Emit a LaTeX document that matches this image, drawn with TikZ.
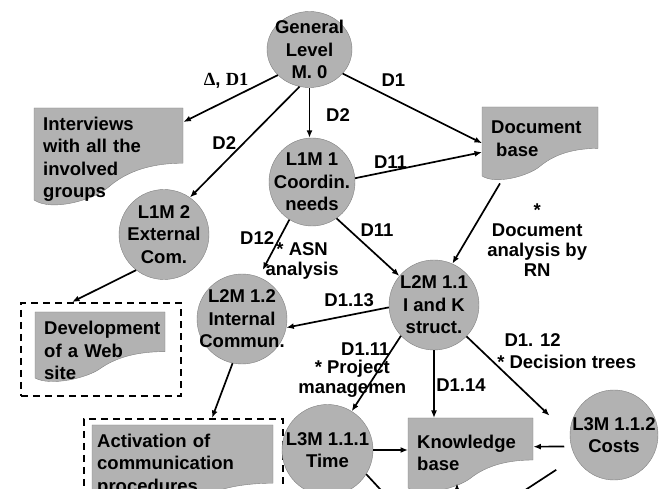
\documentclass[tikz,border=0pt]{standalone}
\usepackage{fontspec}
\setmainfont{Liberation Sans}
\newfontfamily\deltafont{Liberation Serif}
\usetikzlibrary{shapes.geometric,arrows.meta}

\begin{document}
\begin{tikzpicture}[x=1pt, y=-1pt,
  proc/.style={ellipse, draw=\edgecolor, fill=\nodecolor, minimum width=90pt, minimum height=90pt, inner sep=0pt},
  ptext/.style={align=center, inner sep=0pt, font=\procfont},
  docbox/.style={rectangle, anchor=north west, align=left, inner xsep=9pt, inner ysep=0pt, font=\procfont},
  dashbox/.style={rectangle, anchor=north west, draw, dash pattern=on 7pt off 5pt, line width=1.8pt},
  flow/.style={-{Latex[length=7.5pt,width=6pt]}, line width=1.7pt},
  lab/.style={align=center, inner sep=0pt, font=\edgefont}]
\def\nodecolor{gray!60}
\def\edgecolor{black!50}
\def\procfont{\bfseries\fontsize{18.5}{22.5}\selectfont}
\def\edgefont{\bfseries\fontsize{18.5}{20}\selectfont}
\def\docshape#1#2#3#4{% x, y, width, depth
\begin{scope}[shift={(#1,#2)}, xscale=#3, yscale=#4]
\draw[draw=\edgecolor, fill=\nodecolor] (0,0) -- (1,0) -- (1,0.6)
  .. controls (0.75,0.6) and (0.6,0.72) .. (0.5,0.86)
  .. controls (0.4,1.0) and (0.12,1.13) .. (0,1) -- cycle;
\end{scope}}

\useasboundingbox (0,0) rectangle (665,489);
\clip (0,0) rectangle (665,489);

% DASHED FRAMES
\node[dashbox, minimum width=160pt, minimum height=93pt] (webbox) at (20,302) {};
\node[dashbox, minimum width=199pt, minimum height=130pt] (actbox) at (83,418) {};

% DOCUMENTS
\docshape{34}{108}{149}{92}
\node[docbox, text width=131pt, minimum height=102pt] (intv) at (34,108) {Interviews\\with all the\\involved\\groups};

\docshape{482}{107}{116}{69}
\node[docbox, text width=98pt, minimum height=63pt] (db) at (482,107) {Document\\\hspace*{5pt}base};

\docshape{35}{312}{130}{66}
\node[docbox, text width=112pt, minimum height=77pt] (web) at (35,312) {Development\\of a Web\\site};

\docshape{92}{425}{181}{97}
\node[docbox, text width=163pt, minimum height=80pt, inner xsep=5pt] (act) at (92,425) {Activation of\\communication\\procedures};

\docshape{408}{418}{125}{70}
\node[docbox, text width=107pt, minimum height=69pt] (kb) at (408,418) {Knowledge\\base};

% PROCESSES
\node[proc, minimum width=85pt, minimum height=76pt, label={[ptext]center:General\\Level\\M. 0}] (gen) at (309.5,49.5) {};
\node[proc, minimum width=86pt, minimum height=88pt, label={[ptext]center:L1M 1\\Coordin.\\needs}] (l1a) at (312,182) {};
\node[proc, label={[ptext]center:L1M 2\\External\\Com.}] (l1b) at (164,234.5) {};
\node[proc, label={[ptext]center:L2M 1.1\\I and K\\struct.}] (l2a) at (434,305) {};
\node[proc, label={[ptext]center:L2M 1.2\\Internal\\Commun.}] (l2b) at (242,319) {};
\node[proc, minimum width=91pt, minimum height=91pt, label={[ptext]center:L3M 1.1.1\\Time}] (l3a) at (327.5,450) {};
\node[proc, minimum width=88pt, label={[ptext]center:L3M 1.1.2\\Costs}] (l3b) at (614,435) {};

% FLOWS
\draw[flow] (gen.219) -- ([yshift=-14pt]intv.north east)
  node[lab, midway, xshift=-4.5pt, yshift=17.5pt] (lgi) {{\deltafont Δ}, {\deltafont D1}};
\draw[flow] (gen.255) -- (l1b.55)
  node[lab, midway, xshift=-20.5pt, yshift=-1pt] (lgb) {D2};
\draw[flow] (gen.south) -- (gen.south |- l1a.north)
  node[lab, midway, xshift=28.5pt, yshift=-2.5pt] (lga) {D2};
\draw[flow] (gen.324) -- ([yshift=-4.5pt]db.west)
  node[lab, midway, xshift=-19pt, yshift=28pt] (lgd) {D1};
\draw[flow] (l1a.5) -- ([yshift=-13.5pt]db.west)
  node[lab, midway, xshift=-28pt, yshift=3pt] (lad) {D11};
\draw[flow] (l1a.304) -- (l2a.140)
  node[lab, midway, xshift=9pt, yshift=17pt] (laa) {D11};
\draw[flow, shorten >=8pt] (l1a.239) -- (l2b.68)
  node[lab, midway, xshift=-17pt, yshift=10.5pt] (lab12) {D12}
  node[lab, midway, xshift=28pt, yshift=-12.5pt] (lasn) {* ASN\\analysis};
\draw[flow] ([xshift=18pt, yshift=-13pt]db.south west) -- (l2a.66)
  node[lab, midway, xshift=61pt, yshift=-16.5pt] (ldoc) {*\\Document\\analysis by\\RN};
\draw[flow] (l2a.183) -- (l2b.349)
  node[lab, midway, xshift=11.5pt, yshift=17.5pt] (l113) {D1.13};
\draw[flow] (l2a.223) -- (l3a.58)
  node[lab, midway, xshift=-11pt, yshift=24pt] (l111) {D1.11}
  node[lab, midway, xshift=-24pt, yshift=-5pt] (lprj) {* Project\\managemen};
\draw[flow] (l2a.south) -- (l2a.south |- kb.north)
  node[lab, midway, xshift=27pt, yshift=-1pt] (l114) {D1.14};
\draw[flow, shorten >=28pt] (l2a.316) -- (l3b.west)
  node[lab, midway, xshift=14.5pt, yshift=45.5pt] (l112) {D1. 12}
  node[lab, midway, xshift=48.5pt, yshift=23.5pt] (ldec) {* Decision trees};
\draw[flow, shorten <=7pt] (l3b.195) -- ([yshift=6pt]kb.east);
\draw[flow] (l3a.east) -- (l3a.east -| kb.west);
\draw[flow] (l1b.232) -- ([xshift=52pt]webbox.north west);
\draw[flow] (l2b.258) -- ([xshift=129pt]actbox.north west);

% CUT AT THE LOWER EDGE
\coordinate (tmout) at (392,502);
\coordinate (csout) at (510,500);
\coordinate (kbin) at (457,510);
\draw[line width=1.7pt] (l3a.-32) -- (tmout);
\draw[line width=1.7pt, shorten <=23pt] (l3b.210) -- (csout);
\draw[flow] (kbin) -- ([xshift=49pt, yshift=4pt]kb.south west);
\end{tikzpicture}
\end{document}
